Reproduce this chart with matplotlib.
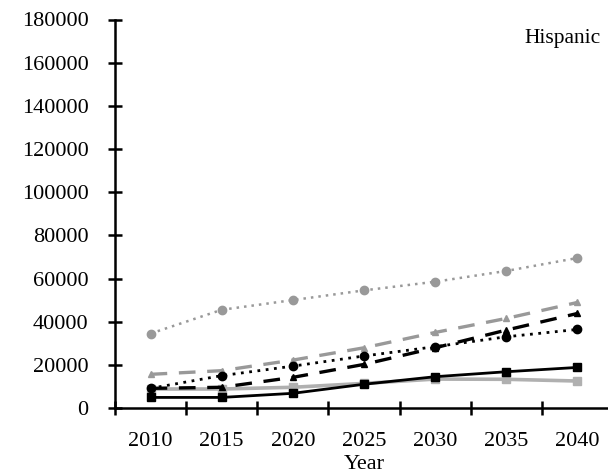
import matplotlib
matplotlib.use("Agg")
from matplotlib import pyplot as plt

plt.rcParams['font.family'] = ['Liberation Serif', 'DejaVu Serif']

years = ["2010", "2015", "2020", "2025", "2030", "2035", "2040"]

# projected counts per series
gray_dotted = [34500, 45500, 50000, 54500, 58500, 63500, 69500]
gray_dashed = [15600, 17300, 22200, 27900, 35000, 41500, 48900]
black_dashed = [9100, 9600, 14200, 20200, 27900, 36100, 43800]
black_dotted = [9100, 15000, 19400, 24100, 28400, 33000, 36400]
black_solid = [4900, 4900, 6800, 11000, 14500, 16800, 18800]
gray_solid = [8800, 8800, 9600, 11400, 13400, 13300, 12500]

fig = plt.figure(figsize=(6.08, 4.74), dpi=100)
ax = fig.add_axes([115 / 608, 66 / 474, 498 / 608, 388.5 / 474])

x = list(range(len(years)))
ax.plot(x, gray_solid, color="#b0b0b0", lw=2.6, marker="s", ms=6)
ax.plot(x, black_solid, color="black", lw=2.0, marker="s", ms=6)
ax.plot(x, gray_dotted, color="#999999", lw=1.8, ls=(0, (1, 2)), marker="o", ms=6)
ax.plot(x, gray_dashed, color="#999999", lw=2.4, ls=(0, (5, 3.5)), marker="^", ms=4.5)
ax.plot(x, black_dashed, color="black", lw=2.4, ls=(0, (5, 3.5)), marker="^", ms=4.5)
ax.plot(x, black_dotted, color="black", lw=2.0, ls=(0, (1, 2)), marker="o", ms=6)

ax.set_ylim(0, 180000)
ax.set_xlim(-0.5, len(years) - 0.5)
ax.set_yticks(range(0, 180001, 20000))
ax.tick_params(axis="y", direction="inout", length=10, width=1.8, pad=14, labelsize=16)

# boundary ticks on the category axis, labels centred between them
ax.set_xticks([i - 0.5 for i in range(len(years) + 1)])
ax.set_xticklabels([])
ax.set_xticks(x, minor=True)
ax.set_xticklabels(years, minor=True)
ax.tick_params(axis="x", which="major", direction="inout", length=10, width=1.8)
ax.tick_params(axis="x", which="minor", length=0, pad=17.5, labelsize=16)

for s in ["top", "right"]:
    ax.spines[s].set_visible(False)
for s in ["left", "bottom"]:
    ax.spines[s].set_linewidth(1.8)

ax.set_xlabel("Year", fontsize=16, labelpad=3)
ax.text(0.975, 0.975, "Hispanic", transform=ax.transAxes, ha="right", va="top", fontsize=15.5)

fig.savefig("out.png", dpi=100)
